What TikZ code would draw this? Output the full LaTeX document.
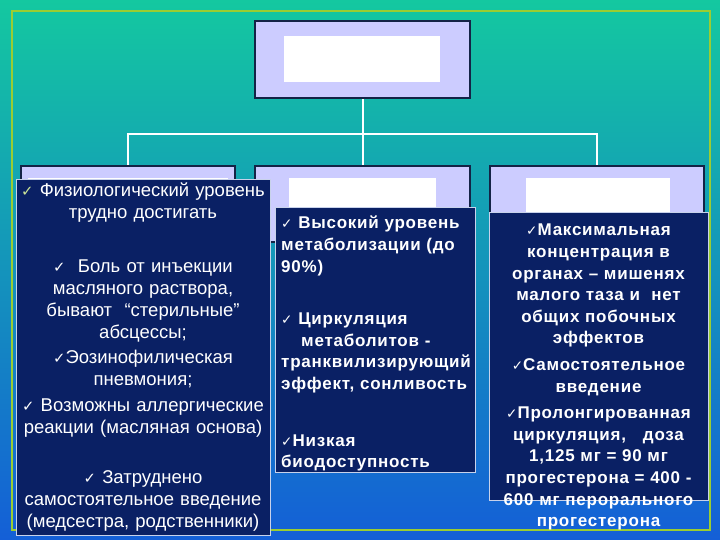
\documentclass[tikz,border=0pt]{standalone}
\usepackage{fontspec}
\setmainfont{Liberation Sans}
\newfontfamily\symf[Scale=0.8]{DejaVu Sans}
\newfontfamily\widef[LetterSpace=4.5]{Liberation Sans}
\usepackage{xcolor}
\usepackage{tikz}
\usetikzlibrary{positioning}

\definecolor{bgtop}{RGB}{20,200,160}
\definecolor{bgmid}{RGB}{30,192,228}
\definecolor{bgbot}{RGB}{20,95,215}
\definecolor{framegreen}{RGB}{155,205,50}
\definecolor{lavender}{RGB}{204,204,255}
\definecolor{boxedge}{RGB}{20,35,70}
\definecolor{panelnavy}{RGB}{10,32,100}
\definecolor{paneledge}{RGB}{200,210,235}

\newcommand{\tick}{{\symf ✓}}

\begin{document}
\begin{tikzpicture}[x=1pt, y=-1pt,
        headbox/.style={draw=boxedge, line width=2.5pt, fill=lavender, rectangle, inner sep=0pt},
        blank/.style={fill=white, rectangle, inner sep=0pt, minimum height=48pt},
        conn/.style={draw=white, line width=2pt},
        panel/.style={draw=paneledge, line width=1pt, fill=panelnavy, rectangle, inner sep=0pt},
        plaintext/.style={text=white, inner sep=0pt, font=\fontsize{18.5}{22}\selectfont},
        boldtext/.style={text=white, inner sep=0pt, font=\widef\bfseries\fontsize{17}{21.6}\selectfont}]
            % Background and frame
            \shade[top color=bgtop, middle color=bgmid, bottom color=bgbot] (0,0) rectangle (720,540);
            \draw[framegreen, line width=2.5pt] (12,11) rectangle (710,530);

            % Boxes of the tree
            \node[headbox, minimum width=215pt, minimum height=77pt] (root) at (362.5,59.5) {};
            \node[headbox, minimum width=214pt, minimum height=76pt] (boxA) at (128,204) {};
            \node[headbox, minimum width=215pt, minimum height=76pt] (boxB) at (362.5,204) {};
            \node[headbox, minimum width=214pt, minimum height=76pt] (boxC) at (597,204) {};

            \node[blank, minimum width=156pt, minimum height=46pt] (rootlbl) at (362,59) {};
            \node[blank, minimum width=200pt] (lblA) at (128,202) {};
            \node[blank, minimum width=147pt] (lblB) at (362.5,202) {};
            \node[blank, minimum width=144pt] (lblC) at (598,202) {};

            \draw[conn] (root.south) -- ++(0,35) -| (boxA.north);
            \draw[conn] (root.south) -- ++(0,35) -| (boxC.north);
            \draw[conn] (root.south) -- (boxB.north);

            % Dark panels with the lists
            \node[panel, minimum width=254pt, minimum height=355pt] (panelA) at (143,357.5) {};
            \node[panel, minimum width=200pt, minimum height=264pt] (panelB) at (375,340) {};
            \node[panel, minimum width=219pt, minimum height=287pt] (panelC) at (598.5,356.5) {};

            \node[plaintext, text width=254pt, align=center, anchor=north] (listA) at (143,183) {%
                {\color{framegreen!50!white}\tick} Физиологический уровень\\
                трудно достигать\\[32pt]
                \tick\ \ Боль от инъекции\\
                масляного раствора,\\
                бывают \ “стерильные”\\
                абсцессы;\\[3pt]
                \tick Эозинофилическая\\
                пневмония;\\[4pt]
                \tick\ Возможны аллергические\\
                реакции (масляная основа)\\[28pt]
                \tick\ Затруднено\\
                самостоятельное введение\\
                (медсестра, родственники)};

            \node[boldtext, text width=196pt, align=left, anchor=north west] (listB) at (281,216) {%
                \tick\ Высокий уровень\\
                метаболизации (до\\
                90\%)\\[31pt]
                \tick\ Циркуляция\\
                \hspace*{20pt}метаболитов -\\
                транквилизирующий\\
                эффект, сонливость\\[35pt]
                \tick Низкая\\
                биодоступность};

            \node[boldtext, text width=219pt, align=center, anchor=north] (listC) at (598.5,224) {%
                \tick Максимальная\\
                концентрация в\\
                органах – мишенях\\
                малого таза и \ нет\\
                общих побочных\\
                эффектов\\[5pt]
                \tick Самостоятельное\\
                введение\\[5pt]
                \tick Пролонгированная\\
                циркуляция,\ \ \ доза\\
                1,125 мг = 90 мг\\
                прогестерона = 400 -\\
                600 мг перорального\\
                прогестерона};
        \end{tikzpicture}
\end{document}
